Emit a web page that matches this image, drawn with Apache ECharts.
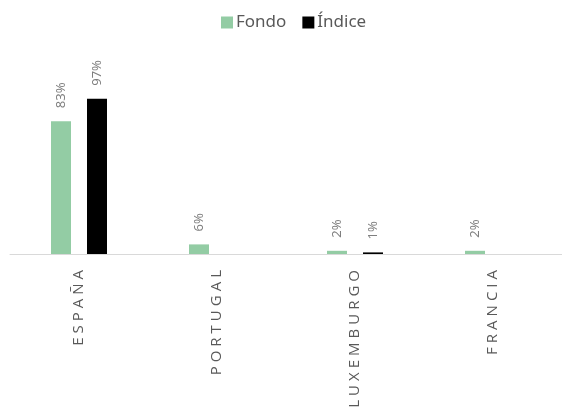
<!DOCTYPE html>
<html>
<head>
<meta charset="utf-8">
<script src="https://cdn.jsdelivr.net/npm/echarts@6/dist/echarts.min.js"></script>
<style>html,body{margin:0;padding:0;background:#fff}#c{width:562px;height:409px}</style>
</head>
<body>
<div id="c"></div>
<script>
const categories = ['ESPAÑA', 'PORTUGAL', 'LUXEMBURGO', 'FRANCIA'];
const fondo = [83, 6, 2, 2];
const indice = [97, null, 1, null];
const seriesNames = ['Fondo', 'Índice'];

// letter-spaced category labels (drawn with a distinct font family)
(function () {
  const proto = CanvasRenderingContext2D.prototype;
  const orig = proto.fillText;
  proto.fillText = function (t, x, y, w) {
    if (this.font && this.font.indexOf('Open Sans') >= 0) {
      const prev = this.letterSpacing;
      this.letterSpacing = '4px';
      const r = w === undefined ? orig.call(this, t, x, y) : orig.call(this, t, x, y, w);
      this.letterSpacing = prev || '0px';
      return r;
    }
    return w === undefined ? orig.call(this, t, x, y) : orig.call(this, t, x, y, w);
  };
})();

const chart = echarts.init(document.getElementById('c'), null, {renderer: 'canvas'});
const labelCfg = {
  show: true,
  position: 'top',
  rotate: 90,
  align: 'left',
  verticalAlign: 'middle',
  distance: 13,
  color: '#7f7f7f',
  fontSize: 13,
  fontFamily: 'Noto Sans',
  formatter: p => p.value == null ? '' : p.value + '%'
};
chart.setOption({
  animation: false,
  textStyle: {fontFamily: 'Noto Sans'},
  legend: {
    top: 9,
    left: 216,
    itemWidth: 12,
    itemHeight: 12,
    itemGap: 16,
    icon: 'rect',
    textStyle: {color: '#595959', fontSize: 17, fontFamily: 'Noto Sans', padding: [0, 0, 0, -2]},
    data: seriesNames
  },
  grid: {left: 10, right: 0, top: 94, bottom: 155, containLabel: false},
  xAxis: {
    type: 'category',
    data: categories,
    axisLine: {lineStyle: {color: '#d9d9d9', width: 1}},
    axisTick: {show: false},
    axisLabel: {rotate: 90, margin: 12, color: '#595959', fontSize: 15, fontFamily: 'Open Sans', interval: 0}
  },
  yAxis: {
    type: 'value',
    min: 0,
    max: 100,
    show: false,
    splitLine: {show: false}
  },
  series: [
    {name: seriesNames[0], type: 'bar', data: fondo, barWidth: 20, barGap: '80%', itemStyle: {color: '#93cca4'}, label: labelCfg},
    {name: seriesNames[1], type: 'bar', data: indice, barWidth: 20, itemStyle: {color: '#000000'}, label: labelCfg}
  ]
});
</script>
</body>
</html>
